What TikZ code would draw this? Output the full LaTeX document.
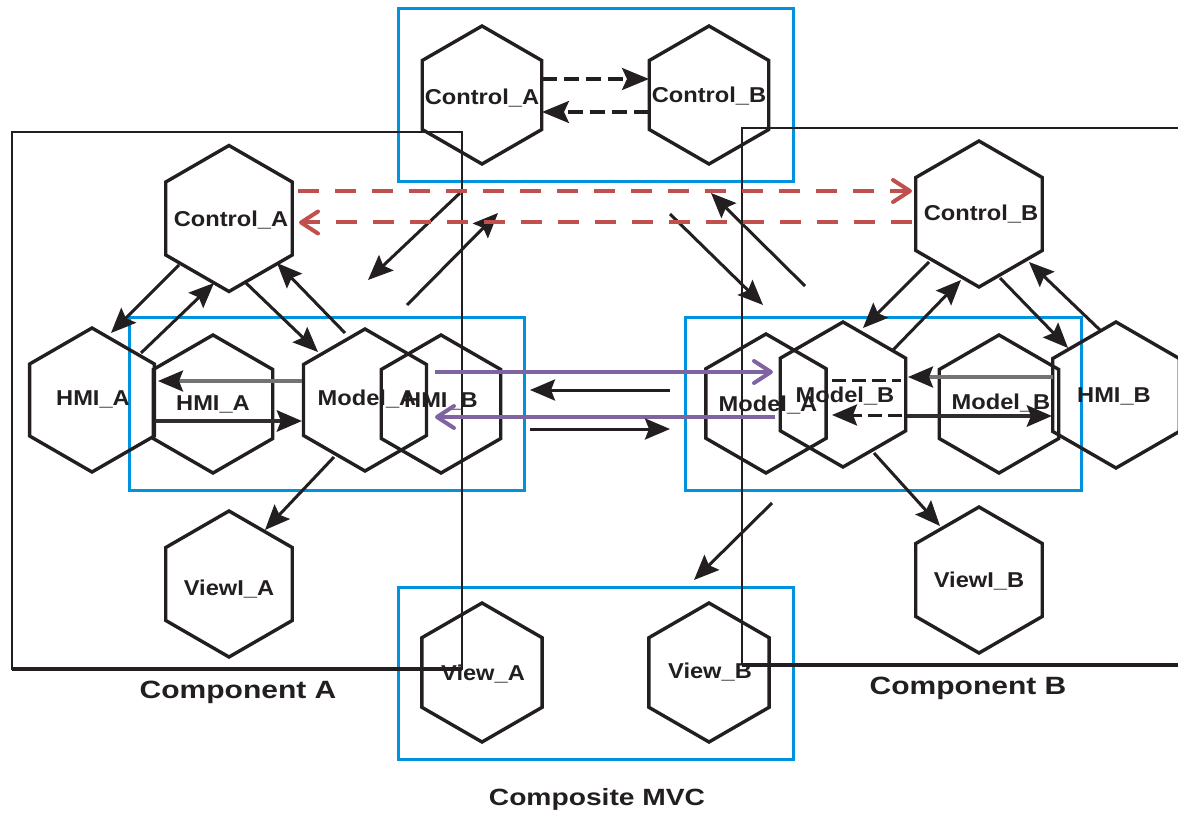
\documentclass[tikz,border=0pt]{standalone}
\usepackage{fontspec}
\setmainfont{Liberation Sans}
\newfontfamily\hexfont{Liberation Sans}[FakeStretch=1.1]
\newfontfamily\capfont{Liberation Sans}[FakeStretch=1.2]
\usetikzlibrary{arrows.meta,calc}

\definecolor{ink}{RGB}{35,31,32}
\definecolor{frameblue}{RGB}{0,146,221}
\definecolor{linkred}{RGB}{192,80,77}
\definecolor{linkpurple}{RGB}{128,100,162}
\definecolor{linkgray}{RGB}{115,115,115}

% hexagon with its centre as a named coordinate and a named text node
% #1 name, #2 centre, #3 circumradius, #4 text, #5 text shift
\newcommand\hexnode[5]{%
  \coordinate (#1) at (#2);
  \draw[hexline] (#1) +(90:#3) -- +(30:#3) -- +(-30:#3) -- +(-90:#3)
    -- +(-150:#3) -- +(150:#3) -- cycle;
  \node[lbl] (#1-t) at ($(#1)+(#5)$) {#4};}

\begin{document}
\begin{tikzpicture}[x=1pt,y=-1pt,
  hexline/.style={draw=ink,line width=3.4pt,line join=miter},
  lbl/.style={font=\hexfont\bfseries\fontsize{21.5}{24}\selectfont,text=ink,
    inner sep=0pt,text height=15.4pt,text depth=0pt},
  caption/.style={font=\capfont\bfseries\fontsize{25}{30}\selectfont,text=ink,
    inner sep=0pt,text height=18pt,text depth=0pt},
  frame/.style={draw=frameblue,line width=3pt},
  comp/.style={draw=ink,line width=2.4pt},
  compbase/.style={draw=ink,line width=4pt},
  tip/.style={-{Stealth[length=25pt,width=21pt,inset=4pt,color=ink]}},
  arr/.style={draw=ink,line width=3pt,tip},
  grayarr/.style={draw=linkgray,line width=3.2pt,tip},
  heavyarr/.style={draw=ink!85!gray,line width=4.6pt,tip},
  dasharr/.style={draw=ink,line width=3.2pt,dash pattern=on 15pt off 7pt,
    -{Stealth[length=27pt,width=22pt,inset=5pt]}},
  dashline/.style={draw=ink,line width=3pt,dash pattern=on 14pt off 6pt},
  dasharrB/.style={dashline,tip},
  redarr/.style={draw=linkred,line width=4pt,dash pattern=on 21pt off 16pt,
    -{Straight Barb[length=17pt,width=22pt,round]}},
  purparr/.style={draw=linkpurple,line width=4pt,
    -{Straight Barb[length=17pt,width=22pt,round]}}]
\useasboundingbox (0,0) rectangle (1178,813);

% composite MVC frames
\draw[frame] (398,9) rectangle (793,182);
\draw[frame] (129,317) rectangle (524,490);
\draw[frame] (685,317) rectangle (1081,490);
\draw[frame] (398,587) rectangle (793,759);

% component frames
\draw[comp] (12,132) rectangle (462,669);
\draw[compbase] (12,669) -- (462,669);
\draw[comp] (1178,128) -- (742,128) -- (742,665);
\draw[compbase] (742,665) -- (1178,665);

% top controllers
\hexnode{tcA}{482,95}{69}{Control\_A}{0,2}
\hexnode{tcB}{709,95}{69}{Control\_B}{0,0}

% component A
\hexnode{cA}{229,218.5}{73}{Control\_A}{2,0}
\hexnode{hA}{92,400}{72}{HMI\_A}{1,-2}
\hexnode{hAi}{213,404}{69}{HMI\_A}{0,-1.5}
\hexnode{mA}{365,400}{71}{Model\_A}{2,-2}
\hexnode{hBi}{441,404}{69}{HMI\_B}{0,-4}
\hexnode{vA}{229,584}{73}{ViewI\_A}{0,4}

% component B
\hexnode{cB}{979,214}{73}{Control\_B}{2,-1.5}
\hexnode{mB}{843,394.5}{72.5}{Model\_B}{2,0}
\hexnode{mAi}{766,403.5}{69.5}{Model\_A}{2,0}
\hexnode{mBi}{999,404}{69}{Model\_B}{2,-2}
\hexnode{hB}{1116,395}{73}{HMI\_B}{-2,0}
\hexnode{vB}{979,580}{73}{ViewI\_B}{0,0}

% composite views
\hexnode{bvA}{482,672.5}{69.5}{View\_A}{1,0}
\hexnode{bvB}{709,672.5}{69.5}{View\_B}{1,-1.5}

% controller to controller
\draw[dasharr] ($(tcA)+(60,-16)$) -- ($(tcB)+(-60,-16)$);
\draw[dasharr] ($(tcB)+(-60,17)$) -- ($(tcA)+(60,17)$);

% composite controllers to components
\draw[arr] ($(tcA)+(-22,98)$) -- ($(cA)+(139,61.5)$);
\draw[arr] ($(cA)+(178,86.5)$) -- ($(tcA)+(16,118)$);
\draw[arr] ($(tcB)+(-39,119)$) -- ($(mB)+(-80,-89.5)$);
\draw[arr] ($(mB)+(-38,-108.5)$) -- ($(tcB)+(2,98)$);

% controller links between components
\draw[redarr] ($(cA)+(69,-27.5)$) -- ($(cB)+(-67,-23)$);
\draw[redarr] ($(cB)+(-67,8.5)$) -- ($(cA)+(70,4)$);

% component A internals
\draw[arr] ($(cA)+(-50,46.5)$) -- ($(hA)+(19,-67)$);
\draw[arr] ($(hA)+(49,-47)$) -- ($(cA)+(-15,64.5)$);
\draw[arr] ($(cA)+(17,64.5)$) -- ($(mA)+(-47,-48)$);
\draw[arr] ($(mA)+(-20,-67)$) -- ($(cA)+(48,44.5)$);
\draw[grayarr] ($(mA)+(-63,-19)$) -- ($(hA)+(66,-19)$);
\draw[heavyarr] ($(hA)+(63,21)$) -- ($(mA)+(-63,21)$);
\draw[arr] ($(mA)+(-31,57)$) -- ($(vA)+(36,-54)$);

% model links between components
\draw[purparr] ($(hBi)+(-6,-32)$) -- ($(mB)+(-70,-22.5)$);
\draw[purparr] ($(mB)+(-68,22.5)$) -- ($(hBi)+(-6,13)$);
\draw[arr] ($(mAi)+(-96,-13.5)$) -- ($(hBi)+(89,-14)$);
\draw[arr] ($(hBi)+(89,25)$) -- ($(mAi)+(-96,25.5)$);

% component B internals
\draw[arr] ($(cB)+(-50,48)$) -- ($(mB)+(20,-66.5)$);
\draw[arr] ($(mB)+(50,-44.5)$) -- ($(cB)+(-18,66)$);
\draw[arr] ($(cB)+(21,64)$) -- ($(hB)+(-48,-47)$);
\draw[arr] ($(hB)+(-16,-65)$) -- ($(cB)+(50,48)$);
\draw[grayarr] ($(hB)+(-63,-18)$) -- ($(mB)+(65,-17.5)$);
\draw[heavyarr] ($(mB)+(64,21.5)$) -- ($(hB)+(-64,21)$);
\draw[dashline] ($(mB)+(-11,-14.5)$) -- ($(mB)+(58,-14.5)$);
\draw[dasharrB] ($(mB)+(59,20.5)$) -- ($(mB)+(-11,20.5)$);
\draw[arr] ($(mB)+(31,58.5)$) -- ($(vB)+(-39,-54)$);

% component B model to composite views
\draw[arr] ($(mAi)+(6,99.5)$) -- ($(bvB)+(-15,-92.5)$);

% captions
\node[caption] (capA) at (238,689) {Component A};
\node[caption] (capB) at (968,685) {Component B};
\node[caption,font=\capfont\bfseries\fontsize{23.5}{28}\selectfont,text height=17pt]
  (capMVC) at (597,797) {Composite MVC};
\end{tikzpicture}
\end{document}
